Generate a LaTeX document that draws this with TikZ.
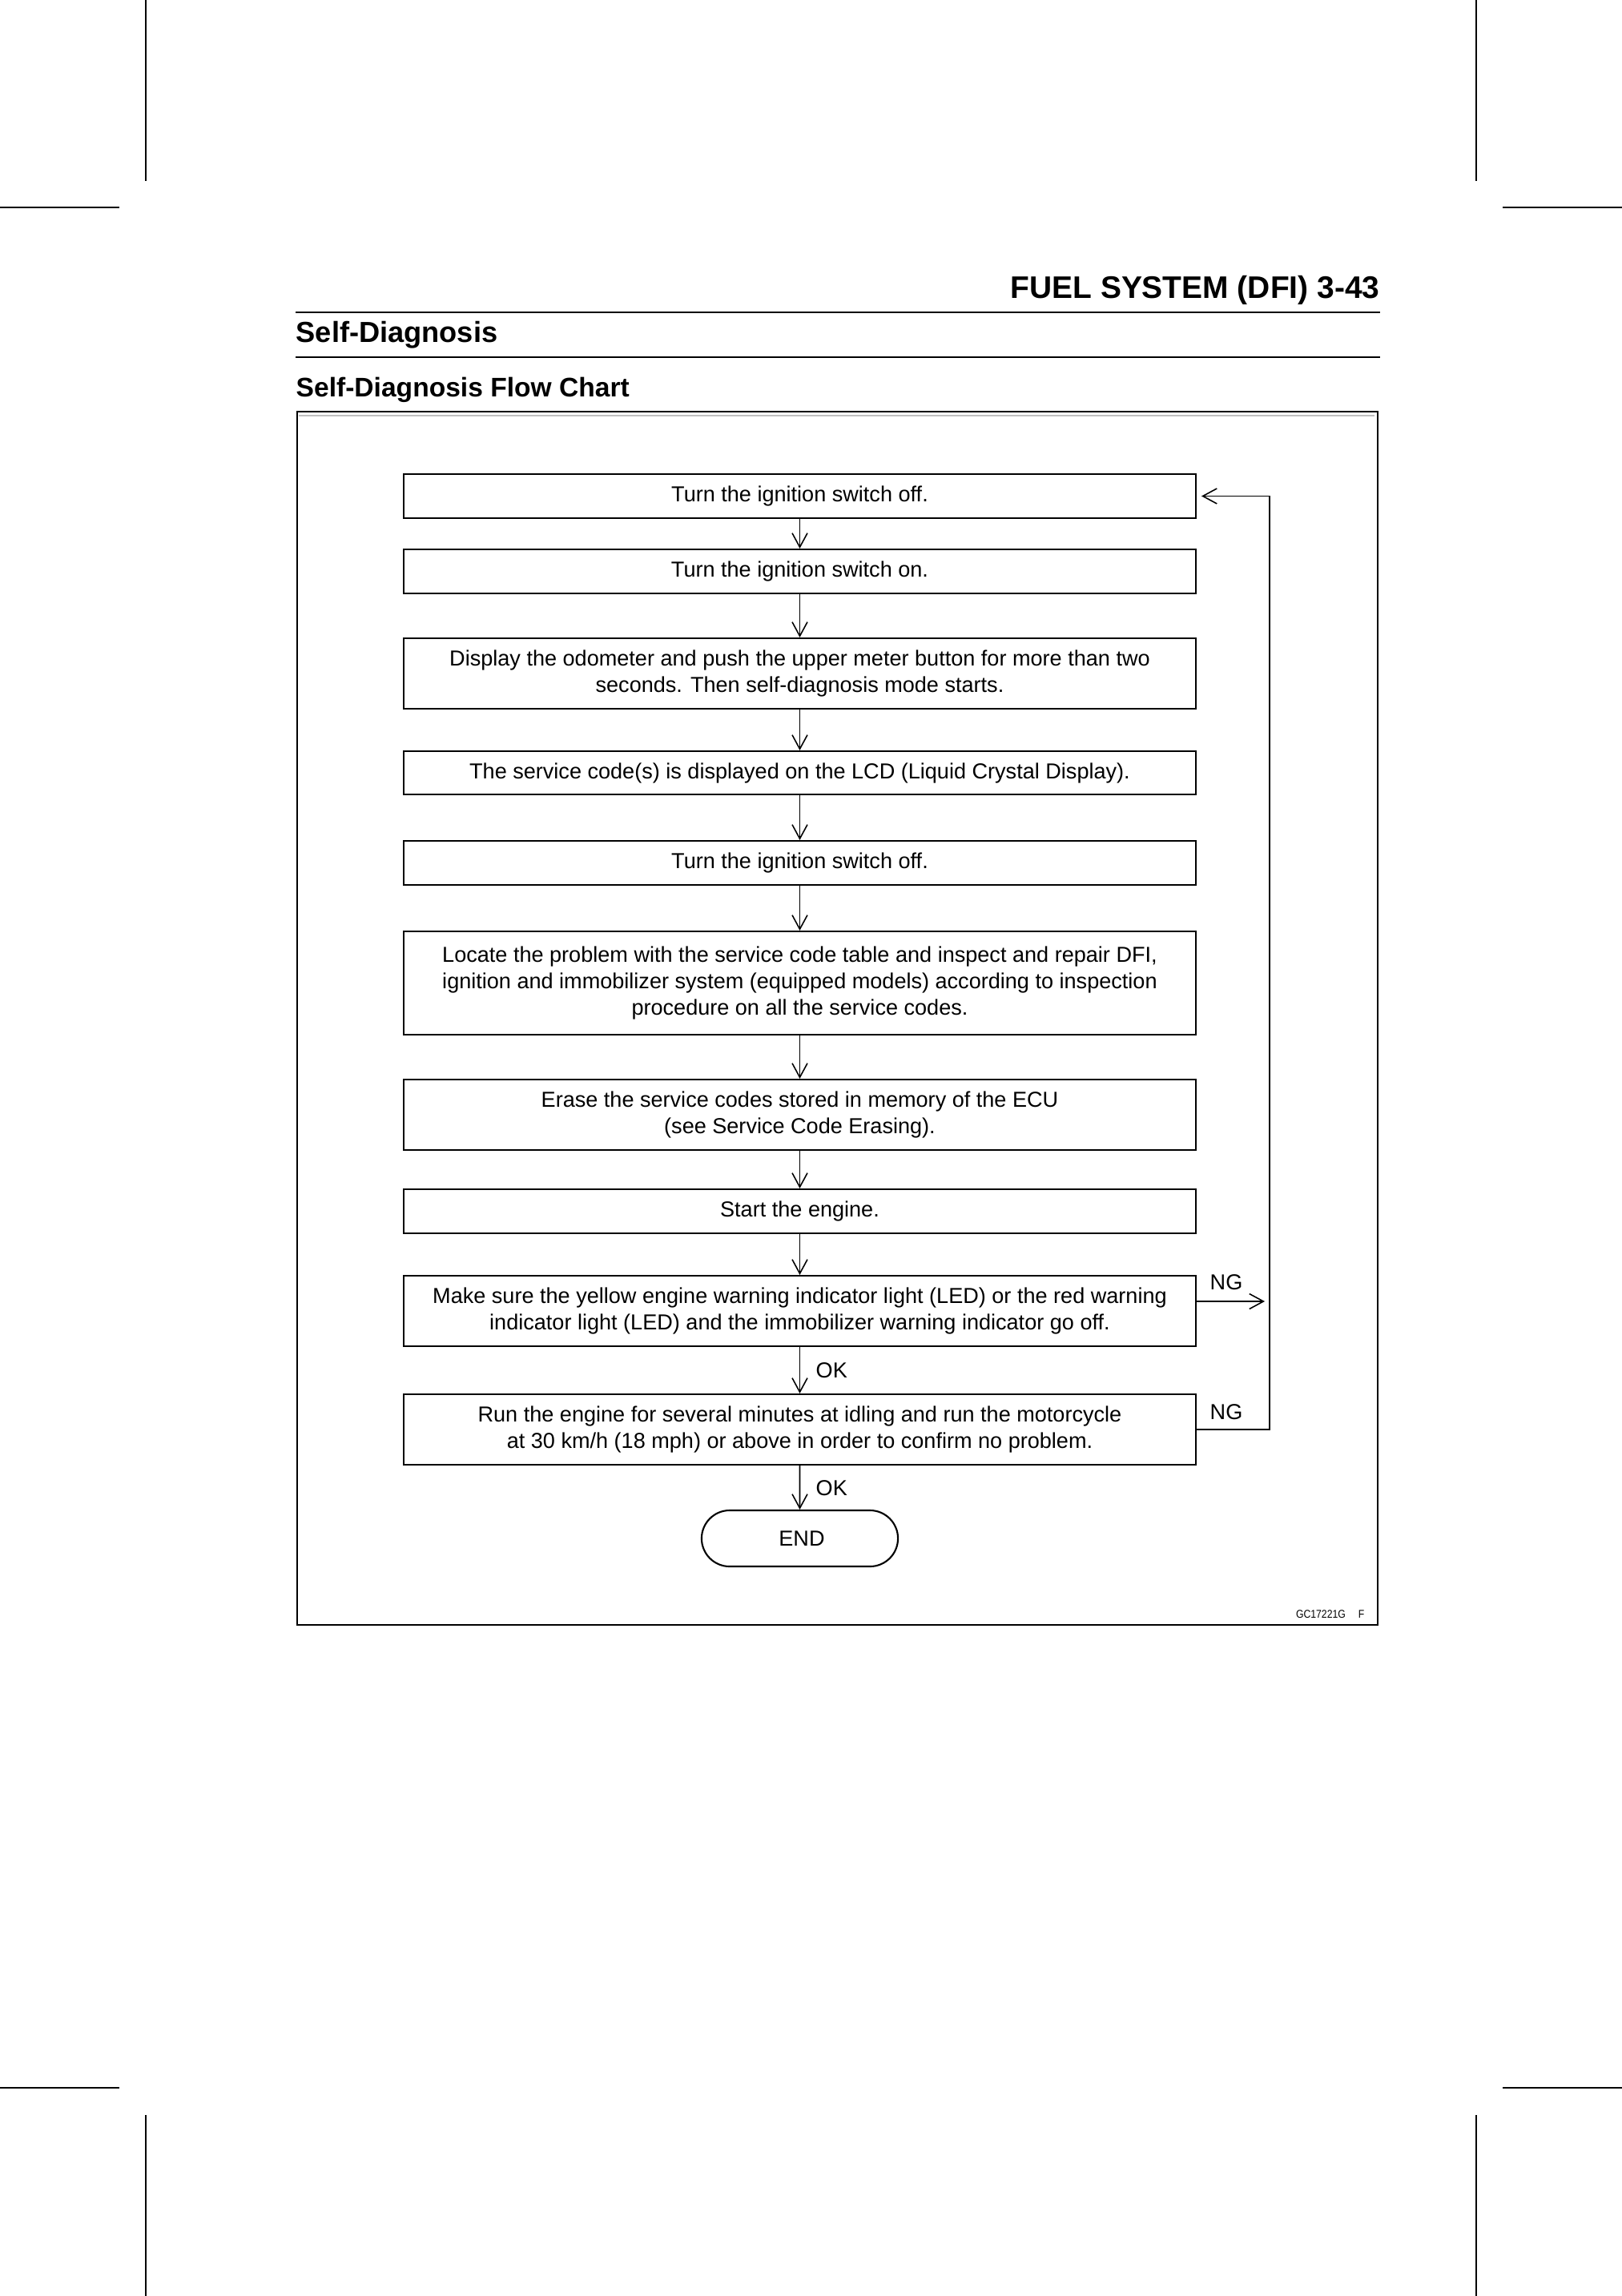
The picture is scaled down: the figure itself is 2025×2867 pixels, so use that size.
\documentclass[tikz,border=0pt]{standalone}
\usepackage{fontspec}
\setmainfont{Liberation Sans}
\usetikzlibrary{arrows.meta,calc,shapes.misc}
\newcommand\bodyfont{\fontsize{7.7}{9.4}\selectfont}
\begin{document}
\begin{tikzpicture}[x=0.01cm,y=-0.01cm,
  boxstyle/.style={draw, line width=0.6pt, minimum width=9.89cm, inner sep=0pt, align=center, font=\bodyfont},
  endstyle/.style={draw, line width=0.6pt, rounded rectangle, minimum width=2.45cm, minimum height=0.70cm, inner sep=0pt, font=\bodyfont},
  arr/.style={line width=0.45pt, -{Straight Barb[length=5pt,width=5.4pt,line width=0.45pt]}},
  lbl/.style={inner sep=0pt, font=\bodyfont},
  crop/.style={line width=0.5pt},
  rule/.style={line width=0.6pt}
]
\useasboundingbox (0,0) rectangle (2025,2867);
% crop marks
\draw[crop] (182,0) -- (182,226);
\draw[crop] (0,259) -- (149,259);
\draw[crop] (1843,0) -- (1843,226);
\draw[crop] (1876,259) -- (2025,259);
\draw[crop] (0,2607) -- (149,2607);
\draw[crop] (182,2641) -- (182,2867);
\draw[crop] (1876,2607) -- (2025,2607);
\draw[crop] (1843,2641) -- (1843,2867);
% headings
\node[anchor=base east, inner sep=0pt, font=\fontsize{11.07}{13}\selectfont\bfseries] (hd) at (1723,373) {FUEL SYSTEM (DFI) 3-43};
\draw[rule] (369,390) -- (1723,390);
\node[anchor=base west, inner sep=0pt, font=\fontsize{10.3}{12}\selectfont\bfseries] (sd) at (369,427) {Self-Diagnosis};
\draw[rule] (369,446) -- (1723,446);
\node[anchor=base west, inner sep=0pt, font=\fontsize{9.55}{11}\selectfont\bfseries] (fc) at (369,495) {Self-Diagnosis Flow Chart};
% frame
\draw[line width=0.7pt] (371,514) rectangle (1720,2029);
\draw[line width=0.4pt, black!25] (373,519) -- (1716,519);
% boxes
\node[boxstyle, minimum height=0.55cm] (b1) at (998.5,619.5) {Turn the ignition switch off.};
\node[boxstyle, minimum height=0.55cm] (b2) at (998.5,713.5) {Turn the ignition switch on.};
\node[boxstyle, minimum height=0.88cm] (b3) at (998.5,841) {Display the odometer and push the upper meter button for more than two\\seconds. Then self-diagnosis mode starts.};
\node[boxstyle, minimum height=0.54cm] (b4) at (998.5,965) {The service code(s) is displayed on the LCD (Liquid Crystal Display).};
\node[boxstyle, minimum height=0.55cm] (b5) at (998.5,1077.5) {Turn the ignition switch off.};
\node[boxstyle, minimum height=1.29cm] (b6) at (998.5,1227.5) {Locate the problem with the service code table and inspect and repair DFI,\\ignition and immobilizer system (equipped models) according to inspection\\procedure on all the service codes.};
\node[boxstyle, minimum height=0.88cm] (b7) at (998.5,1392) {Erase the service codes stored in memory of the ECU\\(see Service Code Erasing).};
\node[boxstyle, minimum height=0.55cm] (b8) at (998.5,1512.5) {Start the engine.};
\node[boxstyle, minimum height=0.88cm] (b9) at (998.5,1637) {Make sure the yellow engine warning indicator light (LED) or the red warning\\indicator light (LED) and the immobilizer warning indicator go off.};
\node[boxstyle, minimum height=0.88cm] (b10) at (998.5,1785) {Run the engine for several minutes at idling and run the motorcycle\\at 30 km/h (18 mph) or above in order to confirm no problem.};
\node[endstyle] (e) at (998.5,1921) {\hspace{0.05cm}END};
% arrows
\draw[arr] (b1) -- (b2);
\draw[arr] (b2) -- (b3);
\draw[arr] (b3) -- (b4);
\draw[arr] (b4) -- (b5);
\draw[arr] (b5) -- (b6);
\draw[arr] (b6) -- (b7);
\draw[arr] (b7) -- (b8);
\draw[arr] (b8) -- (b9);
\draw[arr] (b9) -- (b10);
\draw[arr] (b10) -- (e);
\node[lbl, anchor=base west] (ok1) at (1018,1720) {OK};
\node[lbl, anchor=base west] (ok2) at (1018,1867) {OK};
% NG loop
\coordinate (loopB) at (1585,1785);
\coordinate (loopT) at (1585,619.5);
\coordinate (ng1e) at (1579,1625);
\draw[arr] ($(b9.east)+(0,-12)$) -- (ng1e);
\draw[arr, shorten >=1.6pt] (b10.east) -- (loopB) -- (loopT) -- (b1.east);
\node[lbl, anchor=base west] (ng1) at (1510,1610) {NG};
\node[lbl, anchor=base west] (ng2) at (1510,1772) {NG};
% figure code
\node[anchor=base east, inner sep=0pt, font=\fontsize{4}{5}\selectfont] (code) at (1704,2020) {\scalebox{0.87}[1]{GC17221G\hspace{1.3em}F}};
\end{tikzpicture}
\end{document}
